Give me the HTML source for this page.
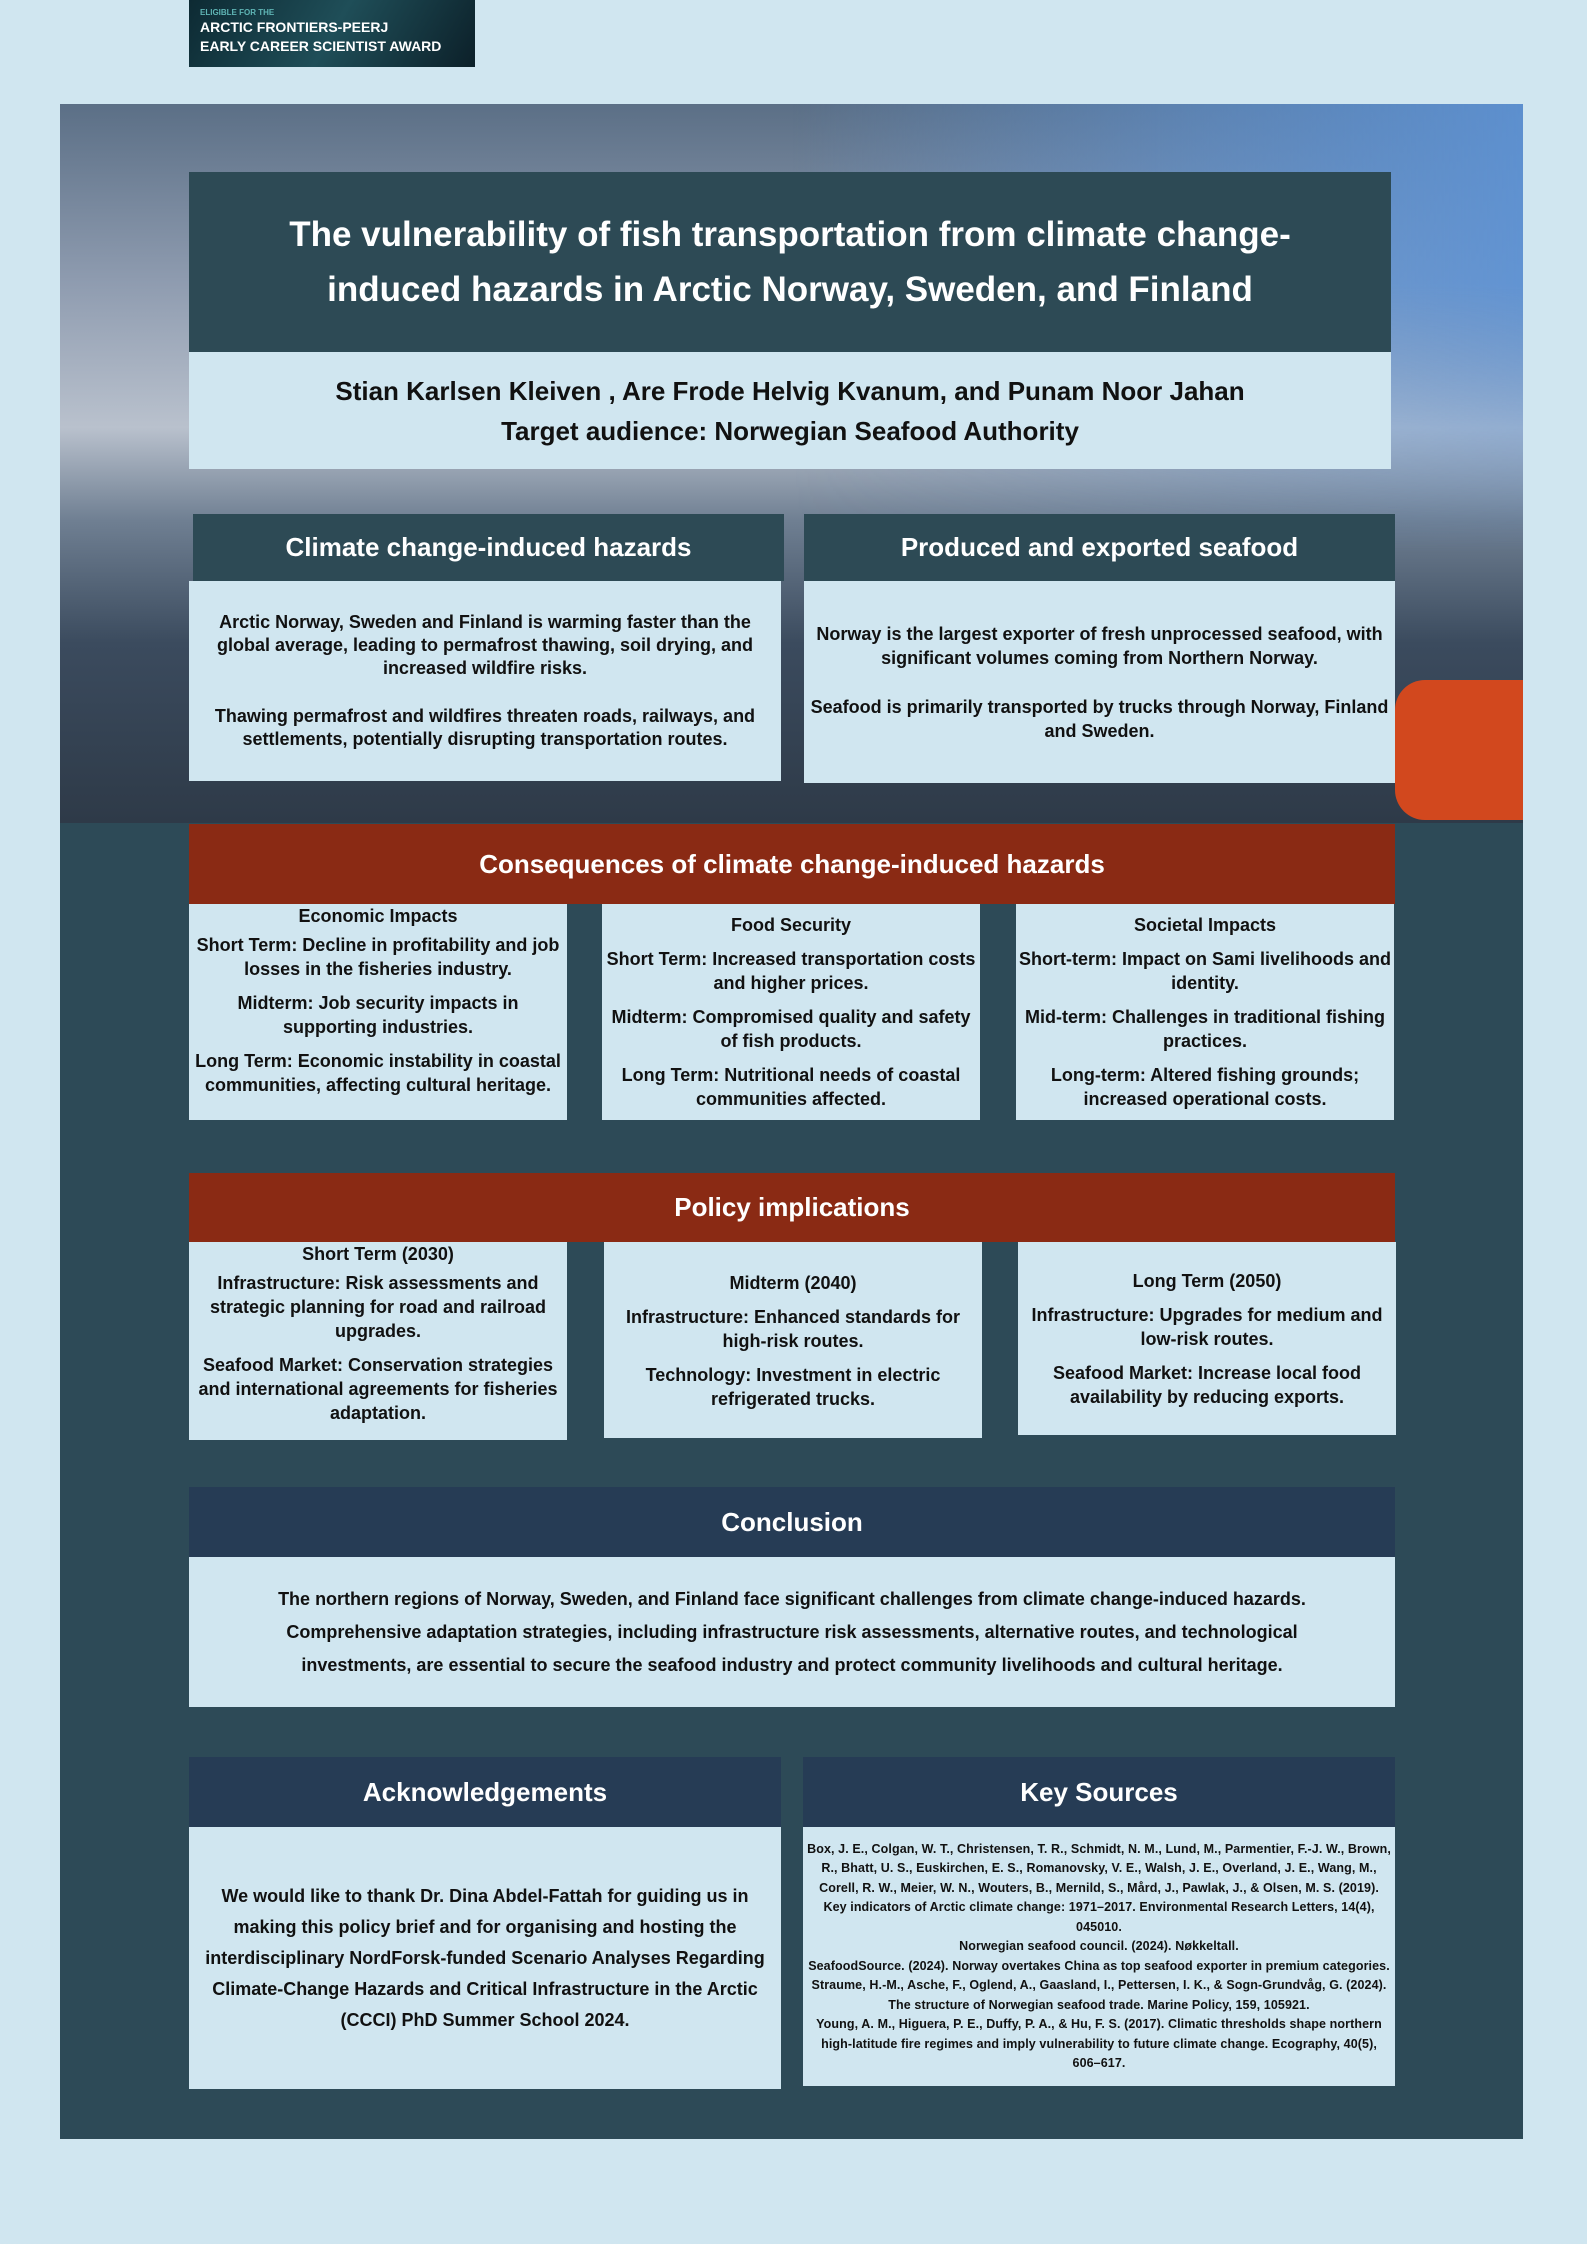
<!DOCTYPE html>
<html><head><meta charset="utf-8"><style>
*{margin:0;padding:0;box-sizing:border-box}
body{width:1587px;height:2244px;background:#d0e6f0;font-family:"Liberation Sans",sans-serif;position:relative;overflow:hidden;color:#111}
.a{position:absolute}
.hdr{color:#fff;font-weight:bold;display:flex;align-items:center;justify-content:center;text-align:center}
.box{background:#d0e6f0;display:flex;flex-direction:column;justify-content:center;align-items:center;text-align:center;font-weight:bold}
.box p{margin:5px 0}
</style></head><body>
<div class="a" style="left:189px;top:0;width:286px;height:67px;background:linear-gradient(120deg,#0d2a33,#1f4e58 50%,#0c2029);color:#fff;font-weight:bold;font-size:14px;padding:8px 11px;line-height:19px">
<div style="font-size:8px;color:#5fb5b5;line-height:10px">ELIGIBLE FOR THE</div>ARCTIC FRONTIERS-PEERJ<br>EARLY CAREER SCIENTIST AWARD</div>
<div class="a" style="left:60px;top:104px;width:1463px;height:2035px;background:#2d4a57"></div>
<div class="a" style="left:60px;top:104px;width:1463px;height:719px;background:linear-gradient(180deg,#5b6f86 0%,#8f9cb0 25%,#b9c1cd 45%,#6f7f92 58%,#3b4b5e 75%,#2e3a48 100%)"></div>
<div class="a" style="left:60px;top:104px;width:1463px;height:450px;background:linear-gradient(90deg,rgba(93,147,214,0) 0%,rgba(93,147,214,0) 50%,rgba(93,147,214,0.6) 80%,rgba(93,147,214,0.9) 100%);-webkit-mask-image:linear-gradient(180deg,#000 40%,transparent 100%);mask-image:linear-gradient(180deg,#000 40%,transparent 100%)"></div>
<div class="a" style="left:1395px;top:680px;width:128px;height:140px;background:#d2481e;border-radius:30px 0 0 30px"></div>
<div class="a hdr" style="left:189px;top:172px;width:1202px;height:180px;background:#2d4a55;font-size:35px;line-height:55px">The vulnerability of fish transportation from climate change-<br>induced hazards in Arctic Norway, Sweden, and Finland</div>
<div class="a box" style="left:189px;top:352px;width:1202px;height:117px;font-size:26px;line-height:40px">Stian Karlsen Kleiven , Are Frode Helvig Kvanum, and Punam Noor Jahan<br>Target audience: Norwegian Seafood Authority</div>
<div class="a hdr" style="left:193px;top:514px;width:591px;height:67px;background:#2d4a55;font-size:26px">Climate change-induced hazards</div>
<div class="a box" style="left:189px;top:581px;width:592px;height:200px;font-size:18px;line-height:23px;padding:0 4px"><p>Arctic Norway, Sweden and Finland is warming faster than the global average, leading to permafrost thawing, soil drying, and increased wildfire risks.</p><p style="margin-top:20px">Thawing permafrost and wildfires threaten roads, railways, and settlements, potentially disrupting transportation routes.</p></div>
<div class="a hdr" style="left:804px;top:514px;width:591px;height:67px;background:#2d4a55;font-size:26px">Produced and exported seafood</div>
<div class="a box" style="left:804px;top:581px;width:591px;height:202px;font-size:18px;line-height:24px;padding:0 6px"><p>Norway is the largest exporter of fresh unprocessed seafood, with significant volumes coming from Northern Norway.</p><p style="margin-top:20px">Seafood is primarily transported by trucks through Norway, Finland and Sweden.</p></div>
<div class="a hdr" style="left:189px;top:824px;width:1206px;height:80px;background:#8a2a14;font-size:26px">Consequences of climate change-induced hazards</div>
<div class="a box" style="left:189px;top:904px;width:378px;height:216px;font-size:18px;line-height:24px;justify-content:flex-start"><p style="margin:0">Economic Impacts</p><p>Short Term: Decline in profitability and job losses in the fisheries industry.</p><p>Midterm: Job security impacts in supporting industries.</p><p>Long Term: Economic instability in coastal communities, affecting cultural heritage.</p></div>
<div class="a box" style="left:602px;top:904px;width:378px;height:216px;font-size:18px;line-height:24px"><p>Food Security</p><p>Short Term: Increased transportation costs and higher prices.</p><p>Midterm: Compromised quality and safety of fish products.</p><p>Long Term: Nutritional needs of coastal communities affected.</p></div>
<div class="a box" style="left:1016px;top:904px;width:378px;height:216px;font-size:18px;line-height:24px"><p>Societal Impacts</p><p>Short-term: Impact on Sami livelihoods and identity.</p><p>Mid-term: Challenges in traditional fishing practices.</p><p>Long-term: Altered fishing grounds; increased operational costs.</p></div>
<div class="a hdr" style="left:189px;top:1173px;width:1206px;height:69px;background:#8a2a14;font-size:26px">Policy implications</div>
<div class="a box" style="left:189px;top:1242px;width:378px;height:198px;font-size:18px;line-height:24px;justify-content:flex-start"><p style="margin:0">Short Term (2030)</p><p>Infrastructure: Risk assessments and strategic planning for road and railroad upgrades.</p><p>Seafood Market: Conservation strategies and international agreements for fisheries adaptation.</p></div>
<div class="a box" style="left:604px;top:1242px;width:378px;height:196px;font-size:18px;line-height:24px;justify-content:flex-start;padding-top:24px"><p>Midterm (2040)</p><p>Infrastructure: Enhanced standards for high-risk routes.</p><p>Technology: Investment in electric refrigerated trucks.</p></div>
<div class="a box" style="left:1018px;top:1242px;width:378px;height:193px;font-size:18px;line-height:24px;justify-content:flex-start;padding-top:22px"><p>Long Term (2050)</p><p>Infrastructure: Upgrades for medium and low-risk routes.</p><p>Seafood Market: Increase local food availability by reducing exports.</p></div>
<div class="a hdr" style="left:189px;top:1487px;width:1206px;height:70px;background:#263c55;font-size:26px">Conclusion</div>
<div class="a box" style="left:189px;top:1557px;width:1206px;height:150px;font-size:18px;line-height:33px">The northern regions of Norway, Sweden, and Finland face significant challenges from climate change-induced hazards.<br>Comprehensive adaptation strategies, including infrastructure risk assessments, alternative routes, and technological<br>investments, are essential to secure the seafood industry and protect community livelihoods and cultural heritage.</div>
<div class="a hdr" style="left:189px;top:1757px;width:592px;height:70px;background:#263c55;font-size:26px">Acknowledgements</div>
<div class="a box" style="left:189px;top:1827px;width:592px;height:262px;font-size:18px;line-height:31px;padding:0 4px">We would like to thank Dr. Dina Abdel-Fattah for guiding us in making this policy brief and for organising and hosting the interdisciplinary NordForsk-funded Scenario Analyses Regarding Climate-Change Hazards and Critical Infrastructure in the Arctic (CCCI) PhD Summer School 2024.</div>
<div class="a hdr" style="left:803px;top:1757px;width:592px;height:70px;background:#263c55;font-size:26px">Key Sources</div>
<div class="a box" style="left:803px;top:1827px;width:592px;height:259px;font-size:12.5px;line-height:19.5px;padding:0 4px;letter-spacing:0.1px">Box, J. E., Colgan, W. T., Christensen, T. R., Schmidt, N. M., Lund, M., Parmentier, F.-J. W., Brown, R., Bhatt, U. S., Euskirchen, E. S., Romanovsky, V. E., Walsh, J. E., Overland, J. E., Wang, M., Corell, R. W., Meier, W. N., Wouters, B., Mernild, S., Mård, J., Pawlak, J., &amp; Olsen, M. S. (2019). Key indicators of Arctic climate change: 1971–2017. Environmental Research Letters, 14(4), 045010.<br>Norwegian seafood council. (2024). Nøkkeltall.<br>SeafoodSource. (2024). Norway overtakes China as top seafood exporter in premium categories.<br>Straume, H.-M., Asche, F., Oglend, A., Gaasland, I., Pettersen, I. K., &amp; Sogn-Grundvåg, G. (2024). The structure of Norwegian seafood trade. Marine Policy, 159, 105921.<br>Young, A. M., Higuera, P. E., Duffy, P. A., &amp; Hu, F. S. (2017). Climatic thresholds shape northern high-latitude fire regimes and imply vulnerability to future climate change. Ecography, 40(5), 606–617.</div>
</body></html>
